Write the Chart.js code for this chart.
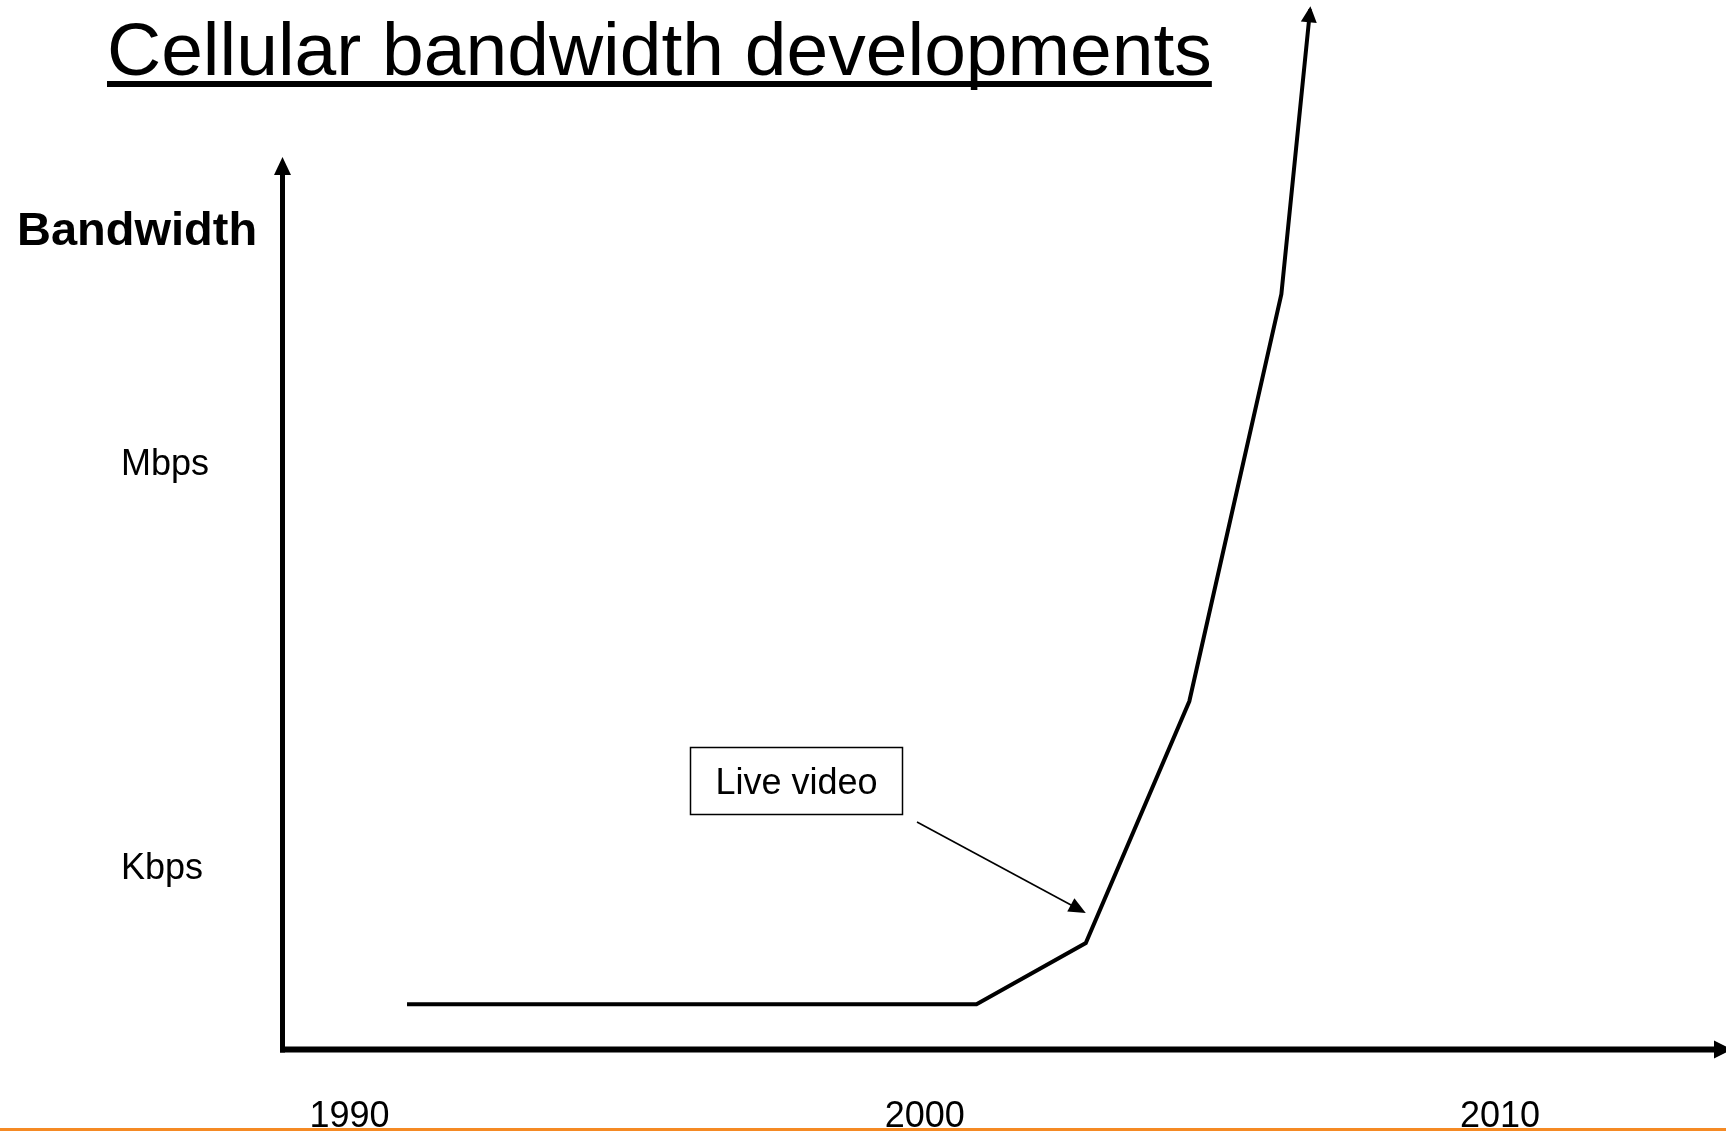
<!DOCTYPE html>
<html>
<head>
<meta charset="utf-8">
<script src="https://cdn.jsdelivr.net/npm/chart.js@4/dist/chart.umd.min.js"></script>
<style>
  html, body { margin: 0; padding: 0; background: #ffffff; overflow: hidden; }
  #wrap { position: relative; width: 1726px; height: 1131px; }
  canvas { display: block; }
</style>
</head>
<body>
<div id="wrap"><canvas id="c" width="1726" height="1131"></canvas></div>
<script>
// Bandwidth curve: year vs. relative bandwidth level (1 = Kbps, 2 = Mbps)
const years = [1991, 2000.9, 2002.8, 2004.6, 2006.2, 2006.7];
const bandwidthLevel = [0.655, 0.655, 0.807, 1.406, 2.415, 3.121];

// Axis ticks
const yearTicks = [1990, 2000, 2010];
const levelTicks = [1, 2];
const levelTickLabels = ['Kbps', 'Mbps'];

// Texts
const chartTitle = 'Cellular bandwidth developments';
const axisLabel = 'Bandwidth';
const calloutText = 'Live video';
const calloutIndex = 2;   // point the "Live video" arrow refers to

const FONT = '"Liberation Sans", Arial, Helvetica, sans-serif';

function arrowHead(ctx, tipX, tipY, dirX, dirY, len, half) {
  const n = Math.hypot(dirX, dirY);
  const ux = dirX / n, uy = dirY / n;
  const bx = tipX - ux * len, by = tipY - uy * len;
  ctx.beginPath();
  ctx.moveTo(tipX, tipY);
  ctx.lineTo(bx - uy * half, by + ux * half);
  ctx.lineTo(bx + uy * half, by - ux * half);
  ctx.closePath();
  ctx.fill();
}

const decorations = {
  id: 'decorations',
  afterDatasetsDraw(chart) {
    const ctx = chart.ctx;
    const xs = chart.scales.x, ys = chart.scales.y;
    const ox = xs.getPixelForValue(xs.min);
    const oy = ys.getPixelForValue(ys.min);
    const top = ys.getPixelForValue(ys.max);
    const right = xs.getPixelForValue(xs.max);

    ctx.save();
    ctx.fillStyle = '#000';
    ctx.strokeStyle = '#000';

    // y axis with arrow
    ctx.lineWidth = 5;
    ctx.beginPath();
    ctx.moveTo(ox, oy + 3);
    ctx.lineTo(ox, top + 16);
    ctx.stroke();
    arrowHead(ctx, ox, top, 0, -1, 18, 8.5);

    // x axis with arrow
    ctx.lineWidth = 6;
    ctx.beginPath();
    ctx.moveTo(ox - 2.5, oy);
    ctx.lineTo(right - 8, oy);
    ctx.stroke();
    arrowHead(ctx, right + 6, oy, 1, 0, 18, 9);

    // arrow head at the end of the curve
    const meta = chart.getDatasetMeta(0).data;
    const last = meta[meta.length - 1], prev = meta[meta.length - 2];
    const dx = last.x - prev.x, dy = last.y - prev.y;
    const dn = Math.hypot(dx, dy);
    arrowHead(ctx, last.x + dx / dn * 3, last.y + dy / dn * 3, dx, dy, 16, 8);

    // title with underline
    ctx.font = '75px ' + FONT;
    ctx.textAlign = 'left';
    ctx.textBaseline = 'alphabetic';
    ctx.fillText(chartTitle, 107, 75);
    const tw = ctx.measureText(chartTitle).width;
    ctx.fillRect(107, 81, tw, 6);

    // axis label
    ctx.font = 'bold 47px ' + FONT;
    ctx.fillText(axisLabel, 17, 245);

    // callout box
    const bx = 690.5, by = 747.5, bw = 212, bh = 67;
    ctx.lineWidth = 1.5;
    ctx.strokeRect(bx, by, bw, bh);
    ctx.font = '36px ' + FONT;
    ctx.textAlign = 'center';
    ctx.textBaseline = 'middle';
    ctx.fillText(calloutText, bx + bw / 2, by + bh / 2 + 3);

    // callout arrow towards the curve
    const p = meta[calloutIndex];
    const tipX = p.x, tipY = p.y - 30;
    const sx = 917, sy = 822;
    const ax = tipX - sx, ay = tipY - sy, an = Math.hypot(ax, ay);
    ctx.lineWidth = 1.6;
    ctx.beginPath();
    ctx.moveTo(sx, sy);
    ctx.lineTo(tipX - ax / an * 12, tipY - ay / an * 12);
    ctx.stroke();
    arrowHead(ctx, tipX, tipY, ax, ay, 17, 7.5);

    // orange rule at the bottom
    ctx.fillStyle = '#F58A24';
    ctx.fillRect(0, 1128, chart.width, 3);
    ctx.restore();
  }
};

new Chart(document.getElementById('c'), {
  type: 'line',
  data: {
    datasets: [{
      data: years.map((x, i) => ({ x, y: bandwidthLevel[i] })),
      borderColor: '#000000',
      borderWidth: 4,
      pointRadius: 0,
      tension: 0,
      fill: false,
      clip: false,
      borderJoinStyle: 'miter',
      borderCapStyle: 'butt'
    }]
  },
  options: {
    responsive: false,
    animation: false,
    devicePixelRatio: 1,
    layout: { padding: { left: 121, top: 157, right: 0, bottom: 0 } },
    plugins: { legend: { display: false }, tooltip: { enabled: false }, title: { display: false } },
    scales: {
      x: {
        type: 'linear',
        bounds: 'data',
        min: 1988.835,
        max: 2013.93,
        grid: { display: false, drawTicks: false },
        border: { display: false },
        ticks: {
          color: '#000',
          font: { family: FONT, size: 36 },
          padding: 46,
          autoSkip: false,
          maxRotation: 0,
          callback: v => String(v)
        },
        afterBuildTicks: s => { s.ticks = yearTicks.map(v => ({ value: v })); },
        afterFit: s => { s.height = 81.5; }
      },
      y: {
        type: 'linear',
        position: 'left',
        bounds: 'data',
        min: 0.543,
        max: 2.755,
        grid: { display: false, drawTicks: false },
        border: { display: false },
        ticks: {
          color: '#000',
          font: { family: FONT, size: 36 },
          crossAlign: 'far',
          padding: 0,
          labelOffset: 3.5,
          autoSkip: false,
          callback: v => levelTickLabels[levelTicks.indexOf(v)]
        },
        afterBuildTicks: s => { s.ticks = levelTicks.map(v => ({ value: v })); },
        afterFit: s => { s.width = 161.5; }
      }
    }
  },
  plugins: [decorations]
});
</script>
</body>
</html>
